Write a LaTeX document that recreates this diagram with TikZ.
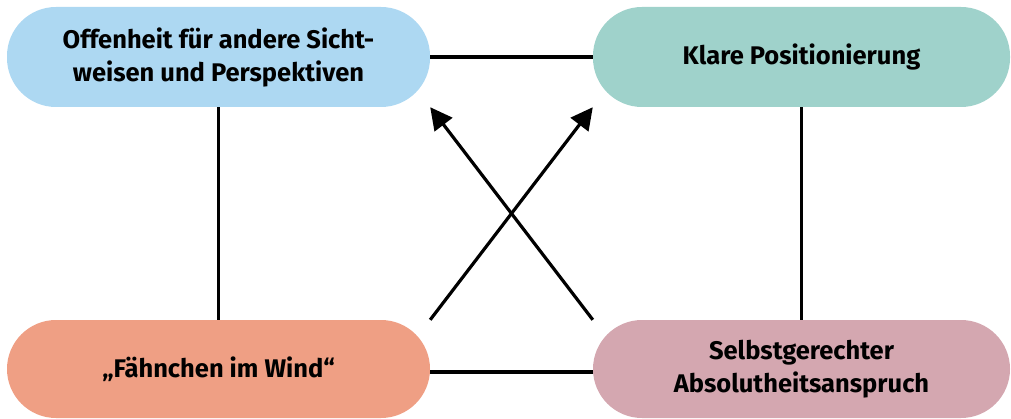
\documentclass[tikz,border=0pt]{standalone}
\usepackage{fontspec}
\setmainfont{Fira Sans}
\usetikzlibrary{arrows.meta}
\definecolor{cblue}{RGB}{173,216,242}
\definecolor{cteal}{RGB}{159,210,203}
\definecolor{csalmon}{RGB}{239,159,132}
\definecolor{cpink}{RGB}{212,167,176}
\tikzset{
  pill/.style={rounded corners=49pt, minimum height=100pt, inner sep=0pt, align=center,
    font=\fontsize{25.5pt}{33pt}\selectfont\bfseries, text=black},
  conn/.style={line width=3.2pt, black},
  arr/.style={conn, -{Triangle[length=22pt,width=22pt]}}
}
\begin{document}
\begin{tikzpicture}[x=1pt,y=-1pt]
\useasboundingbox (0,0) rectangle (1011,419);
\node[pill, fill=cblue, minimum width=423pt] (tl) at (218.5,57) {Offenheit für andere Sicht-\\weisen und Perspektiven};
\node[pill, fill=cteal, minimum width=417pt] (tr) at (801.5,57) {Klare Positionierung};
\node[pill, fill=csalmon, minimum width=423pt, minimum height=98pt] (bl) at (218.5,369) {„Fähnchen im Wind“};
\node[pill, fill=cpink, minimum width=417pt, minimum height=98pt] (br) at (801.5,369) {Selbstgerechter\\Absolutheitsanspruch};
\draw[conn] (tl.east) -- (tr.west);
\draw[conn] (bl.east |- 0,372) -- (br.west |- 0,372);
\draw[conn] (tl.south) -- (bl.north);
\draw[conn] (tr.south) -- (br.north);
\draw[arr] (bl.north east) -- (tr.south west);
\draw[arr] (br.north west) -- (tl.south east);
\end{tikzpicture}
\end{document}
